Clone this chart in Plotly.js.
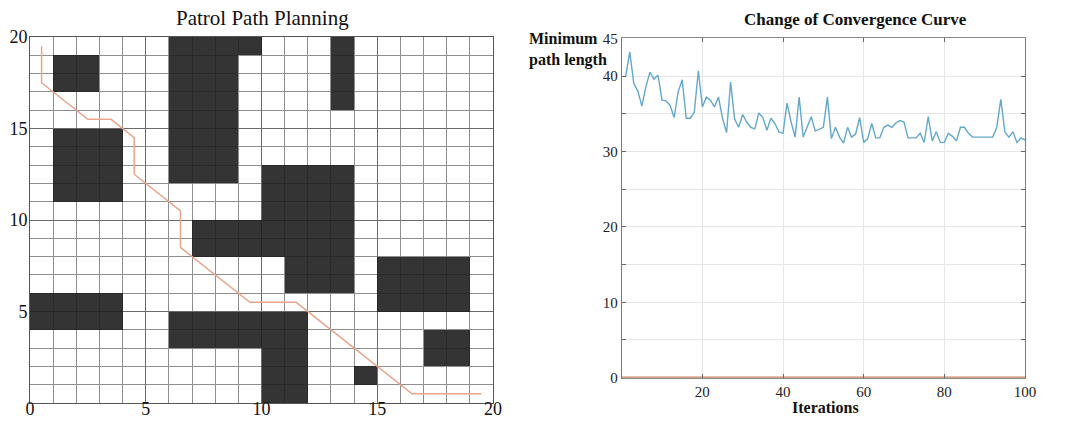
<!DOCTYPE html>
<html>
<head>
<meta charset="utf-8">
<script src="https://cdn.plot.ly/plotly-3.0.1.min.js"></script>
<style>html,body{margin:0;padding:0;background:#fff;}#chart{width:1077px;height:421px;}</style>
</head>
<body>
<div id="chart"></div>
<script>
// ---- Left chart data: obstacle rectangles (grid cells) ----
const obsX0 = [1, 6, 9, 13, 1, 10, 7, 11, 15, 0, 6, 10, 17, 14];
const obsX1 = [3, 9, 10, 14, 4, 14, 10, 14, 19, 4, 12, 12, 19, 15];
const obsY0 = [17, 12, 19, 16, 11, 8, 8, 6, 5, 4, 3, 0, 2, 1];
const obsY1 = [19, 20, 20, 20, 15, 13, 10, 8, 8, 6, 5, 3, 4, 2];
// patrol path vertices
const pathX = [0.5, 0.5, 2.5, 3.5, 4.5, 4.5, 6.5, 6.5, 9.5, 11.5, 16.5, 19.5];
const pathY = [19.5, 17.5, 15.5, 15.5, 14.5, 12.5, 10.5, 8.5, 5.5, 5.5, 0.5, 0.5];
const gridTicks = [0, 5, 10, 15, 20];

// ---- Right chart data: convergence curve ----
const iterations = [1,2,3,4,5,6,7,8,9,10,11,12,13,14,15,16,17,18,19,20,21,22,23,24,25,26,27,28,29,30,31,32,33,34,35,36,37,38,39,40,41,42,43,44,45,46,47,48,49,50,51,52,53,54,55,56,57,58,59,60,61,62,63,64,65,66,67,68,69,70,71,72,73,74,75,76,77,78,79,80,81,82,83,84,85,86,87,88,89,90,91,92,93,94,95,96,97,98,99,100];
const minPathLength = [40.0,43.2,39.0,38.0,36.0,38.6,40.5,39.6,40.1,36.8,
  36.7,36.1,34.5,37.9,39.5,34.4,34.4,35.2,40.7,35.9,
  37.2,36.8,35.9,37.2,34.4,32.5,39.2,34.3,33.2,34.9,
  33.9,33.2,33.0,35.1,34.5,32.8,34.4,33.7,32.6,32.4,
  36.4,33.9,31.9,37.2,31.9,33.2,34.6,32.7,32.9,33.2,
  37.2,31.7,33.2,31.9,31.1,33.2,31.9,32.3,34.5,31.2,
  31.7,33.7,31.8,31.8,33.2,33.5,33.2,33.8,34.1,33.9,
  31.8,31.8,31.8,32.4,31.2,34.6,31.4,32.6,31.2,31.2,
  32.4,32.0,31.4,33.2,33.2,32.4,31.9,31.9,31.9,31.9,
  31.9,31.9,33.2,36.9,32.6,31.9,32.6,31.2,31.8,31.5];
const baseIter = [0, 100];
const baseLen = [0, 0];
const xTicks2 = [20, 40, 60, 80, 100];
const yTicks2 = [0, 10, 20, 30, 40, 45];

// build occupancy matrix from rectangles
const N = 20;
const z = [];
for (let j = 0; j < N; j++) { z.push(new Array(N).fill(0)); }
for (let k = 0; k < obsX0.length; k++) {
  for (let j = obsY0[k]; j < obsY1[k]; j++) {
    for (let i = obsX0[k]; i < obsX1[k]; i++) { z[j][i] = 1; }
  }
}

const serif = 'Liberation Serif, Times New Roman, serif';
const W = 1077, H = 421;

const traces = [
  {type: 'heatmap', z: z, x0: 0.5, dx: 1, y0: 0.5, dy: 1,
   colorscale: [[0, 'rgba(255,255,255,0)'], [1, 'rgba(30,30,30,0.9)']],
   zmin: 0, zmax: 1, showscale: false, hoverinfo: 'skip', xaxis: 'x', yaxis: 'y'},
  {type: 'scatter', mode: 'lines', x: pathX, y: pathY,
   line: {color: '#e9a58a', width: 1.5}, xaxis: 'x', yaxis: 'y', hoverinfo: 'skip'},
  {type: 'scatter', mode: 'lines', x: baseIter, y: baseLen,
   line: {color: '#c8825e', width: 2.2}, xaxis: 'x2', yaxis: 'y2', cliponaxis: false},
  {type: 'scatter', mode: 'lines', x: iterations, y: minPathLength,
   line: {color: '#63a8ca', width: 1.4}, xaxis: 'x2', yaxis: 'y2'}
];

const layout = {
  width: W, height: H,
  margin: {l: 0, r: 0, t: 0, b: 0},
  paper_bgcolor: '#fff', plot_bgcolor: '#fff',
  showlegend: false,
  font: {family: serif, color: '#111'},
  xaxis: {
    domain: [30 / W, 493 / W], range: [0, 20], anchor: 'y',
    tickmode: 'array', tickvals: gridTicks, ticks: '', ticklabelstandoff: -11,
    showgrid: true, gridcolor: '#6a6a6a', gridwidth: 1,
    minor: {dtick: 1, tick0: 0, showgrid: true, gridcolor: '#8e8e8e', gridwidth: 1},
    showline: true, linecolor: '#555', linewidth: 1, mirror: true,
    zeroline: false, tickfont: {family: serif, size: 18, color: '#111'}, fixedrange: true
  },
  yaxis: {
    domain: [18 / H, 384 / H], range: [0, 20], anchor: 'x',
    tickmode: 'array', tickvals: [5, 10, 15, 20], ticks: '', ticklabelstandoff: -2,
    showgrid: true, gridcolor: '#6a6a6a', gridwidth: 1,
    minor: {dtick: 1, tick0: 0, showgrid: true, gridcolor: '#8e8e8e', gridwidth: 1},
    showline: true, linecolor: '#555', linewidth: 1, mirror: true,
    zeroline: false, tickfont: {family: serif, size: 18, color: '#111'}, fixedrange: true
  },
  xaxis2: {
    domain: [621.7 / W, 1025 / W], range: [0, 100], anchor: 'y2',
    tickmode: 'array', tickvals: xTicks2, ticks: 'inside', ticklen: 4, tickcolor: '#666',
    showgrid: true, gridcolor: '#e6e6e6', gridwidth: 1,
    showline: true, linecolor: '#8a8a8a', linewidth: 1, mirror: 'ticks',
    zeroline: false, tickfont: {family: serif, size: 15, color: '#222'}, fixedrange: true
  },
  yaxis2: {
    domain: [(H - 377.7) / H, (H - 38.3) / H], range: [0, 45], anchor: 'x2',
    tickmode: 'array', tickvals: yTicks2, ticks: 'inside', ticklen: 4, tickcolor: '#666',
    showgrid: true, gridcolor: '#e6e6e6', gridwidth: 1,
    minor: {dtick: 5, tick0: 0, showgrid: true, gridcolor: '#e6e6e6', ticks: 'inside', ticklen: 4, tickcolor: '#666'},
    showline: true, linecolor: '#7a7a7a', linewidth: 1, mirror: 'ticks',
    zeroline: false, tickfont: {family: serif, size: 15, color: '#222'}, fixedrange: true
  },
  annotations: [
    {text: 'Patrol Path Planning', xref: 'paper', yref: 'paper', x: 262 / W, y: (H - 18) / H,
     xanchor: 'center', yanchor: 'middle', showarrow: false, font: {family: serif, size: 21, color: '#111'}},
    {text: '<b>Change of Convergence Curve</b>', xref: 'paper', yref: 'paper', x: 855 / W, y: (H - 19) / H,
     xanchor: 'center', yanchor: 'middle', showarrow: false, font: {family: serif, size: 17, color: '#111'}},
    {text: '<b>Minimum</b><br><b>path length</b>', xref: 'paper', yref: 'paper', x: 527 / W, y: (H - 50) / H,
     xanchor: 'left', yanchor: 'middle', align: 'left', showarrow: false, font: {family: serif, size: 16, color: '#111'}},
    {text: '<b>Iterations</b>', xref: 'paper', yref: 'paper', x: 825 / W, y: (H - 407) / H,
     xanchor: 'center', yanchor: 'middle', showarrow: false, font: {family: serif, size: 16, color: '#111'}}
  ]
};

Plotly.newPlot('chart', traces, layout, {displayModeBar: false, staticPlot: true});
</script>
</body>
</html>
